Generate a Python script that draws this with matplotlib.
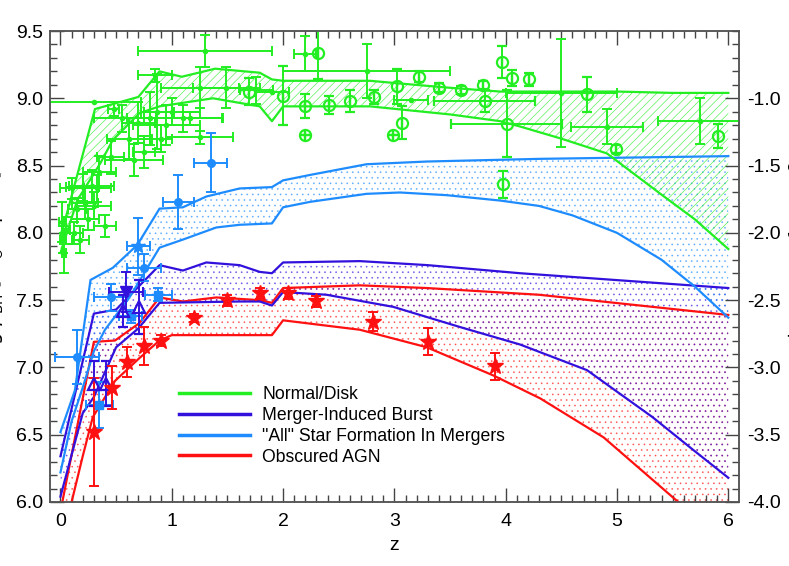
import matplotlib
matplotlib.use("Agg")
import matplotlib.pyplot as plt
from matplotlib.lines import Line2D
from matplotlib.ticker import MultipleLocator, FormatStrFormatter
import numpy as np

plt.rcParams['font.family'] = ['Liberation Sans', 'DejaVu Sans']
plt.rcParams['axes.unicode_minus'] = False
plt.rcParams['hatch.linewidth'] = 0.5

GREEN = '#22ee22'
PURPLE = '#3311dd'
LBLUE = '#1e8cff'
RED = '#ff1111'

# ---------------- model bands ----------------
green_up_z = [0.0, 0.06, 0.31, 0.7, 0.89, 1.09, 1.39, 1.79, 1.9, 2.0, 2.78, 3.05, 3.47, 3.95, 4.5, 5.0, 5.5, 6.0]
green_up_y = [7.98, 8.15, 8.92, 9.01, 9.2, 9.16, 9.22, 9.19, 9.14, 9.13, 9.13, 9.11, 9.08, 9.05, 9.05, 9.05, 9.04, 9.04]
green_lo_z = [0.0, 0.15, 0.36, 0.47, 0.71, 0.89, 1.37, 1.79, 1.9, 2.0, 2.78, 3.5, 3.95, 4.13, 4.5, 4.91, 5.39, 5.7, 6.0]
green_lo_y = [7.85, 8.24, 8.52, 8.69, 8.89, 8.94, 9.0, 8.94, 8.83, 8.94, 8.94, 8.88, 8.83, 8.79, 8.70, 8.59, 8.29, 8.1, 7.88]

lblue_up_z = [0.0, 0.13, 0.27, 0.47, 0.69, 0.89, 1.1, 1.31, 1.61, 1.9, 2.0, 2.24, 2.75, 3.29, 4.31, 6.0]
lblue_up_y = [6.52, 6.83, 7.65, 7.74, 7.91, 8.18, 8.19, 8.27, 8.33, 8.34, 8.39, 8.43, 8.51, 8.53, 8.55, 8.57]
lblue_lo_z = [0.0, 0.1, 0.2, 0.3, 0.4, 0.62, 0.89, 1.1, 1.4, 1.61, 1.9, 2.0, 2.24, 2.75, 3.05, 3.47, 3.95, 4.3, 4.6, 5.0, 5.4, 5.7, 6.0]
lblue_lo_y = [6.22, 6.6, 6.85, 7.12, 7.28, 7.52, 7.89, 7.95, 8.04, 8.06, 8.07, 8.19, 8.23, 8.29, 8.30, 8.28, 8.24, 8.2, 8.13, 8.0, 7.8, 7.6, 7.37]

purple_up_z = [0.0, 0.3, 0.5, 0.89, 1.1, 1.31, 1.61, 1.79, 1.9, 2.0, 2.69, 3.3, 4.13, 6.0]
purple_up_y = [6.34, 7.40, 7.43, 7.76, 7.72, 7.78, 7.76, 7.71, 7.70, 7.78, 7.79, 7.76, 7.70, 7.59]
purple_lo_z = [0.0, 0.2, 0.3, 0.5, 0.7, 0.89, 1.61, 1.79, 1.9, 2.0, 2.39, 2.99, 3.59, 4.13, 4.73, 5.32, 5.68, 6.0]
purple_lo_y = [6.04, 6.66, 6.78, 7.15, 7.29, 7.48, 7.49, 7.49, 7.46, 7.56, 7.54, 7.45, 7.30, 7.17, 6.98, 6.63, 6.39, 6.18]

red_up_z = [0.0, 0.3, 0.49, 0.71, 0.89, 1.1, 1.4, 1.79, 1.9, 2.0, 2.69, 3.29, 4.3, 6.0]
red_up_y = [5.93, 7.19, 7.20, 7.33, 7.52, 7.49, 7.52, 7.50, 7.48, 7.59, 7.61, 7.59, 7.54, 7.39]
red_lo_z = [0.1, 0.2, 0.29, 0.49, 0.71, 0.89, 1.0, 1.9, 2.0, 2.69, 3.29, 3.89, 4.31, 4.88, 5.55, 6.0]
red_lo_y = [6.0, 6.34, 6.63, 6.9, 7.07, 7.2, 7.24, 7.24, 7.35, 7.28, 7.15, 6.94, 6.77, 6.48, 6.0, 5.6]

# ---------------- data points ----------------
# green crosses: z, y, xerr, yerr
gc_z    = [0.01, 0.03, 0.02, 0.05, 0.10, 0.20, 0.28, 0.33, 0.15, 0.22, 0.30, 0.40, 0.12, 0.25, 0.35, 0.45, 0.18,
           0.30, 0.48, 0.55, 0.62, 0.66, 0.70, 0.75, 0.80, 0.87, 0.85, 0.90, 0.95, 1.00, 1.10, 1.16, 1.25, 1.25,
           1.30, 1.49, 1.76, 2.20, 2.75, 1.90, 3.15, 4.50, 4.91, 5.75]
gc_y    = [8.08, 7.85, 7.95, 8.02, 8.33, 8.34, 8.35, 8.33, 8.18, 8.22, 8.20, 8.05, 8.00, 8.10, 8.45, 8.56, 7.95,
           8.97, 8.92, 8.85, 8.70, 8.54, 8.82, 8.60, 8.85, 8.90, 9.17, 8.70, 8.80, 8.90, 8.85, 8.85, 8.71, 9.08,
           9.35, 9.08, 9.06, 9.33, 9.20, 9.05, 8.99, 9.04, 8.79, 8.83]
gc_xerr = [0.02, 0.02, 0.02, 0.04, 0.10, 0.15, 0.20, 0.12, 0.08, 0.12, 0.15, 0.10, 0.08, 0.10, 0.15, 0.12, 0.08,
           0.42, 0.05, 0.25, 0.20, 0.26, 0.15, 0.10, 0.20, 0.15, 0.15, 0.10, 0.30, 0.25, 0.35, 0.30, 0.30, 0.35,
           0.60, 0.30, 0.15, 0.10, 0.75, 0.15, 0.15, 0.50, 0.32, 0.38]
gc_yerr = [0.15, 0.15, 0.10, 0.10, 0.08, 0.10, 0.12, 0.10, 0.08, 0.12, 0.10, 0.08, 0.08, 0.08, 0.12, 0.12, 0.10,
           0.00, 0.05, 0.10, 0.15, 0.12, 0.15, 0.12, 0.20, 0.28, 0.05, 0.10, 0.15, 0.10, 0.10, 0.05, 0.05, 0.15,
           0.12, 0.15, 0.10, 0.13, 0.20, 0.00, 0.00, 0.40, 0.13, 0.17]

# green open circles: z, y, yerr, xerr
go_z    = [1.69, 2.00, 2.20, 2.41, 2.60, 2.82, 3.02, 3.22, 3.40, 3.60, 3.80, 3.81, 3.97, 4.06, 4.21, 4.01,
           2.20, 2.31, 2.99, 3.07, 3.98, 4.73, 4.99, 5.91]
go_y    = [9.05, 9.02, 8.94, 8.95, 8.98, 9.01, 9.09, 9.16, 9.08, 9.06, 9.10, 8.98, 9.27, 9.15, 9.14, 8.81,
           8.73, 9.34, 8.73, 8.82, 8.36, 9.03, 8.62, 8.72]
go_yerr = [0.10, 0.22, 0.09, 0.07, 0.08, 0.05, 0.13, 0.04, 0.03, 0.03, 0.03, 0.08, 0.12, 0.06, 0.05, 0.25,
           0.00, 0.20, 0.00, 0.12, 0.10, 0.13, 0.03, 0.09]
go_xerr = [0.00, 0.00, 0.00, 0.00, 0.00, 0.00, 0.00, 0.00, 0.00, 0.00, 0.00, 0.45, 0.00, 0.00, 0.00, 0.50,
           0.00, 0.00, 0.00, 0.00, 0.00, 0.00, 0.00, 0.00]

# light-blue points
lb_circ_z = [1.35, 1.06, 0.75, 0.45, 0.15]
lb_circ_y = [8.52, 8.23, 7.74, 7.52, 7.08]
lb_circ_xerr = [0.15, 0.14, 0.15, 0.15, 0.20]
lb_circ_yerr = [0.22, 0.20, 0.10, 0.10, 0.20]
lb_star_z = [0.70]
lb_star_y = [7.90]
lb_star_xerr = [0.10]
lb_star_yerr = [0.21]
lb_sq_z = [0.88, 0.63, 0.35]
lb_sq_y = [7.54, 7.38, 6.72]
lb_sq_xerr = [0.12, 0.10, 0.12]
lb_sq_yerr = [0.05, 0.05, 0.17]

# purple points
pu_down_z = [0.59]
pu_down_y = [7.56]
pu_down_xerr = [0.15]
pu_down_yerr = [0.15]
pu_up_z = [0.56, 0.71, 0.30, 0.41]
pu_up_y = [7.42, 7.45, 6.88, 6.88]
pu_up_yerr = [0.12, 0.20, 0.17, 0.17]

# red stars
rs_z = [0.30, 0.46, 0.60, 0.75, 0.90, 1.20, 1.50, 1.79, 2.04, 2.30, 2.81, 3.30, 3.90]
rs_y = [6.52, 6.85, 7.04, 7.16, 7.20, 7.37, 7.50, 7.55, 7.55, 7.49, 7.34, 7.19, 7.01]
rs_yerr = [0.40, 0.16, 0.11, 0.14, 0.04, 0.03, 0.04, 0.04, 0.04, 0.04, 0.07, 0.10, 0.10]

legend_labels = ['Normal/Disk', 'Merger-Induced Burst', '"All" Star Formation In Mergers', 'Obscured AGN']

# ---------------- figure ----------------
fig = plt.figure(figsize=(7.89, 5.66), dpi=100)
ax = fig.add_axes([50/789, 64/566, 689/789, 471/566])

def band(zu, yu, zl, yl, color, hatch, halpha, lw=1.6):
    zz = np.linspace(0, 6, 601)
    up = np.interp(zz, zu, yu)
    lo = np.interp(zz, zl, yl, left=yl[0] - 1.0)
    ax.fill_between(zz, lo, up, facecolor='none', edgecolor=color, hatch=hatch, linewidth=0,
                    alpha=halpha, zorder=1)
    ax.plot(zu, yu, color=color, lw=lw, zorder=3)
    ax.plot(zl, yl, color=color, lw=lw, zorder=3)

band(red_up_z, red_up_y, red_lo_z, red_lo_y, RED, '...', 0.55)
band(purple_up_z, purple_up_y, purple_lo_z, purple_lo_y, PURPLE, '...', 0.55)
band(lblue_up_z, lblue_up_y, lblue_lo_z, lblue_lo_y, LBLUE, '...', 0.55)
band(green_up_z, green_up_y, green_lo_z, green_lo_y, GREEN, '////', 0.75)

ekw = dict(linestyle='none', capsize=3.5, elinewidth=1.4, capthick=1.4, zorder=5)
ax.errorbar(gc_z, gc_y, xerr=gc_xerr, yerr=gc_yerr, fmt='o', ms=3, color=GREEN, **ekw)
ax.errorbar(go_z, go_y, xerr=go_xerr, yerr=go_yerr, fmt='o', ms=8, mfc='none', mew=1.6, color=GREEN, **ekw)
ax.errorbar(lb_circ_z, lb_circ_y, xerr=lb_circ_xerr, yerr=lb_circ_yerr, fmt='o', ms=5.5, color=LBLUE, **ekw)
ax.errorbar(lb_star_z, lb_star_y, xerr=lb_star_xerr, yerr=lb_star_yerr, fmt='*', ms=10, color=LBLUE, **ekw)
ax.errorbar(lb_sq_z, lb_sq_y, xerr=lb_sq_xerr, yerr=lb_sq_yerr, fmt='s', ms=6, color=LBLUE, **ekw)
ax.errorbar(pu_down_z, pu_down_y, xerr=pu_down_xerr, yerr=pu_down_yerr, fmt='v', ms=8, color=PURPLE, **ekw)
ax.errorbar(pu_up_z, pu_up_y, yerr=pu_up_yerr, fmt='^', ms=8, mfc='none', mew=1.6, color=PURPLE, **ekw)
ax.errorbar(rs_z, rs_y, yerr=rs_yerr, fmt='*', ms=12, color=RED, **ekw)

ax.set_xlim(-0.094, 6.096)
ax.set_ylim(6.0, 9.5)
ax.xaxis.set_major_locator(MultipleLocator(1))
ax.xaxis.set_minor_locator(MultipleLocator(0.1))
ax.yaxis.set_major_locator(MultipleLocator(0.5))
ax.yaxis.set_minor_locator(MultipleLocator(0.1))
ax.yaxis.set_major_formatter(FormatStrFormatter('%.1f'))
ax.tick_params(which='both', direction='in', top=True, right=False, colors='#444444', labelcolor='black',
               labelsize=14)
ax.tick_params(axis='x', which='major', pad=8)
ax.tick_params(axis='y', which='major', pad=5)
ax.tick_params(which='major', length=10, width=1)
ax.tick_params(which='minor', length=5, width=1)
for s in ax.spines.values():
    s.set_color('#555555')
    s.set_linewidth(1.1)
ax.set_xlabel('z', fontsize=14, labelpad=5)
ax.set_ylabel(r'$\log\,\rho_{\rm BH}\ [M_\odot\ {\rm Mpc}^{-3}]$', fontsize=14)
ax.yaxis.set_label_coords(-0.064, 0.5)

ax2 = ax.twinx()
ax2.set_ylim(-4.0, -0.5)
ax2.yaxis.set_major_locator(MultipleLocator(0.5))
ax2.yaxis.set_minor_locator(MultipleLocator(0.1))
ax2.yaxis.set_major_formatter(FormatStrFormatter('%.1f'))
ax2.set_yticks([-4.0, -3.5, -3.0, -2.5, -2.0, -1.5, -1.0])
ax2.tick_params(which='both', direction='in', colors='#444444', labelcolor='black', labelsize=14, pad=6)
ax2.tick_params(which='major', length=10, width=1)
ax2.tick_params(which='minor', length=5, width=1)
for s in ax2.spines.values():
    s.set_color('#555555')
    s.set_linewidth(1.1)
ax2.set_ylabel(r'$\log\,\dot\rho_{*}\ [M_\odot\ {\rm yr}^{-1}\ {\rm Mpc}^{-3}]$', fontsize=14)
ax2.yaxis.set_label_coords(1.070, 0.5)

handles = [Line2D([], [], color=c, lw=2.5) for c in [GREEN, PURPLE, LBLUE, RED]]
leg = ax.legend(handles, legend_labels, loc='upper left', bbox_to_anchor=(129/689, (502-386)/471),
                frameon=False, fontsize=12.7, handlelength=4.0, handletextpad=0.72, labelspacing=0.22,
                borderpad=0, borderaxespad=0)
leg.set_zorder(10)

fig.savefig('out.png', dpi=100)
